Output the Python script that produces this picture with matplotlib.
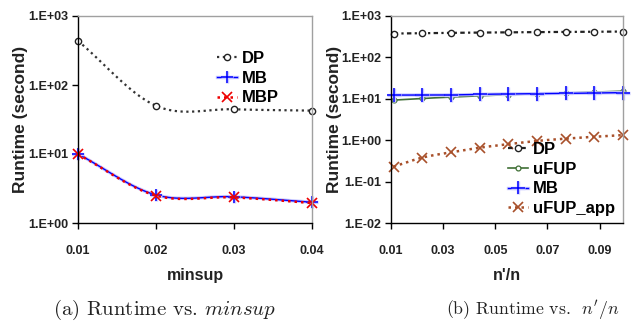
import matplotlib
matplotlib.use('Agg')
import matplotlib.pyplot as plt
from matplotlib import font_manager as fm
import matplotlib.patheffects as pe
import numpy as np

# ---------------- data ----------------
minsup = [0.01, 0.02, 0.03, 0.04]
dp_a = [435, 50, 44.5, 42.5]
mb_a = [10.0, 2.55, 2.4, 2.0]
mbp_a = [9.9, 2.5, 2.35, 1.95]

ratio = [0.011, 0.022, 0.033, 0.044, 0.055, 0.066, 0.077, 0.088, 0.099]
dp_b = [377, 385, 392, 398, 403, 408, 413, 417, 421]
ufup_b = [9.3, 10.2, 11.0, 11.8, 12.6, 13.2, 13.8, 14.5, 15.3]
mb_b = [12.3, 12.3, 12.4, 12.8, 13.1, 13.3, 13.5, 13.8, 14.1]
app_b = [0.23, 0.38, 0.51, 0.66, 0.80, 0.96, 1.09, 1.21, 1.33]

xticks_a = [0.01, 0.02, 0.03, 0.04]
xticks_b = [0.01, 0.03, 0.05, 0.07, 0.09]
yticks_a = [1, 10, 100, 1000]
yticks_b = [0.01, 0.1, 1, 10, 100, 1000]


def has_font(name):
    try:
        fm.findfont(fm.FontProperties(family=name), fallback_to_default=False)
        return True
    except Exception:
        return False

NARROW = 'Liberation Sans Narrow' if has_font('Liberation Sans Narrow') else 'Liberation Sans'
WIDE = 'Liberation Sans'
plt.rcParams['mathtext.fontset'] = 'cm'

N = 30


def smooth(x, y, n=N):
    """Catmull-Rom style smoothing of the drawn line (like a spreadsheet's smoothed line)."""
    x = np.asarray(x, float)
    ly = np.log10(np.asarray(y, float))
    P = np.column_stack([x, ly])
    P = np.vstack([2 * P[0] - P[1], P, 2 * P[-1] - P[-2]])
    out = []
    t = np.linspace(0, 1, n)[:, None]
    for i in range(1, len(P) - 2):
        p0, p1, p2, p3 = P[i - 1], P[i], P[i + 1], P[i + 2]
        seg = 0.5 * ((2 * p1) + (-p0 + p2) * t + (2 * p0 - 5 * p1 + 4 * p2 - p3) * t ** 2
                     + (-p0 + 3 * p1 - 3 * p2 + p3) * t ** 3)
        out.append(seg if i == 1 else seg[1:])
    S = np.vstack(out)
    marks = [k * (n - 1) for k in range(len(x))]
    return S[:, 0], 10 ** S[:, 1], marks


def ylab(v):
    e = int(round(np.log10(v)))
    return f"1.E{'+' if e >= 0 else '-'}{abs(e):02d}"


fig = plt.figure(figsize=(6.32, 3.29), dpi=100)
W, H = 632, 329
axA = fig.add_axes([78 / W, (H - 223) / H, (312 - 78) / W, (223 - 16) / H])
axB = fig.add_axes([391 / W, (H - 223) / H, (623 - 391) / W, (223 - 16) / H])

tickfont = dict(family=NARROW, weight='bold', size=9)


def style(ax, xticks, yticks, xlim, ylim, xlabel):
    ax.set_yscale('log')
    ax.set_xlim(*xlim)
    ax.set_ylim(*ylim)
    ax.set_xticks(xticks)
    ax.set_xticklabels([f"{v:.2f}" for v in xticks], **tickfont, color='#222222')
    ax.set_yticks(yticks)
    ax.set_yticklabels([ylab(v) for v in yticks], **tickfont, color='#222222')
    ax.minorticks_off()
    ax.tick_params(axis='y', direction='out', length=4, width=1, pad=3)
    ax.tick_params(axis='x', direction='out', length=4, width=1, pad=12)
    for s in ['left', 'bottom']:
        ax.spines[s].set_color('black')
        ax.spines[s].set_linewidth(1.0)
    for s in ['top', 'right']:
        ax.spines[s].set_color('#a0a0a0')
        ax.spines[s].set_linewidth(1.0)
    ax.set_ylabel('Runtime (second)', family=WIDE, weight='bold', size=12.5, color='#222222')
    ax.yaxis.set_label_coords(-0.213, 0.5)
    ax.set_xlabel(xlabel, family=NARROW, weight='bold', size=11.5, color='#222222')
    ax.xaxis.set_label_coords(0.5, -0.215)


halo = [pe.Stroke(linewidth=2.4, foreground='#c8c8ff'), pe.Normal()]
legprops = dict(frameon=False, prop=dict(family=NARROW, weight='bold', size=12),
                handlelength=1.2, handletextpad=0.3, labelspacing=0.28, borderpad=0,
                borderaxespad=0, loc='upper left')

# ---- (a) ----
x, y, m = smooth(minsup, dp_a)
axA.plot(x, y, color='#333333', lw=1.6, ls=(0, (1, 1.6)), marker='o', markevery=m,
         ms=4.5, mfc='white', mec='#222222', mew=1.0, label='DP', clip_on=False)
x, y, m = smooth(minsup, mb_a)
axA.plot(x, y, color='#0000ff', lw=1.0, marker='+', markevery=m, ms=9, mew=1.1,
         label='MB', path_effects=halo, clip_on=False)
x, y, m = smooth(minsup, mbp_a)
axA.plot(x, y, color='#ee0000', lw=1.8, ls=(0, (1, 1.6)), marker='x', markevery=m, ms=6.5,
         mew=1.2, label='MBP', clip_on=False)
style(axA, xticks_a, yticks_a, (0.01, 0.04), (1, 1000), 'minsup')
axA.legend(bbox_to_anchor=((217 - 78) / 234, (223 - 51) / 207), **legprops)

# ---- (b) ----
x, y, m = smooth(ratio, dp_b)
axB.plot(x, y, color='#222222', lw=1.6, ls=(0, (2, 1.5, 1, 1.5)), marker='o', markevery=m,
         ms=4.5, mfc='white', mec='#222222', mew=1.0, label='DP', clip_on=False)
x, y, m = smooth(ratio, ufup_b)
axB.plot(x, y, color='#3f6f35', lw=1.2, marker='o', markevery=m, ms=3.5, mfc='white',
         mec='#3f6f35', mew=0.9, label='uFUP', clip_on=False)
x, y, m = smooth(ratio, mb_b)
axB.plot(x, y, color='#0000ff', lw=1.0, marker='+', markevery=m, ms=10, mew=1.1,
         label='MB', path_effects=halo, clip_on=False)
x, y, m = smooth(ratio, app_b)
axB.plot(x, y, color='#a8502a', lw=1.8, ls=(0, (1, 1.6)), marker='x', markevery=m, ms=6.5,
         mew=1.2, label='uFUP_app', clip_on=False)
style(axB, xticks_b, yticks_b, (0.01, 0.099), (0.01, 1000), "n'/n")
axB.legend(bbox_to_anchor=((508 - 391) / 232, (223 - 142) / 207), **legprops)

# ---- captions ----
fig.text(53 / W, (H - 314.5) / H, r'(a) Runtime vs. $minsup$', family='cmr10', size=15,
         ha='left', va='baseline', color='#222222')
fig.text(446 / W, (H - 314.5) / H, r"(b) Runtime vs.  $n'/n$", family='cmr10', size=12.8,
         ha='left', va='baseline', color='#222222')

fig.savefig('out.png', dpi=100)
